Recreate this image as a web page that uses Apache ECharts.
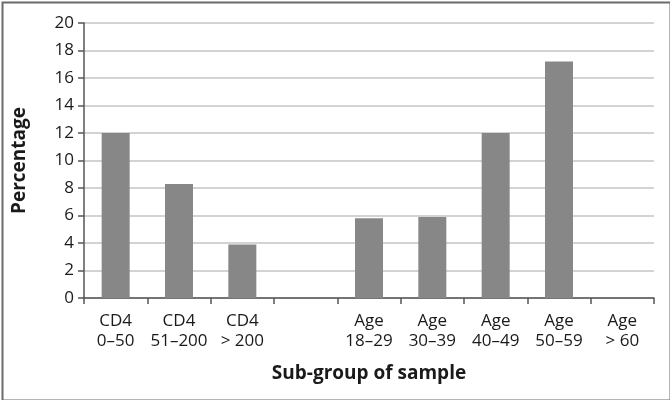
<!DOCTYPE html>
<html>
<head>
<meta charset="utf-8">
<script src="https://cdn.jsdelivr.net/npm/echarts@6/dist/echarts.min.js"></script>
<style>
  html, body { margin: 0; padding: 0; background: #fff; }
  #main { width: 670px; height: 400px; }
</style>
</head>
<body>
<div id="main"></div>
<script>
const categories = ['CD4\n0–50', 'CD4\n51–200', 'CD4\n> 200', '', 'Age\n18–29', 'Age\n30–39', 'Age\n40–49', 'Age\n50–59', 'Age\n> 60'];
const percentages = [12, 8.3, 3.9, null, 5.8, 5.9, 12, 17.2, 0];

const chart = echarts.init(document.getElementById('main'), null, { renderer: 'canvas' });

const font = '"Open Sans", "DejaVu Sans", sans-serif';

const option = {
  backgroundColor: '#ffffff',
  animation: false,
  graphic: [{
    type: 'rect',
    left: 0, top: 0,
    shape: { x: 1, y: 1, width: 668, height: 398 },
    style: { fill: 'none', stroke: '#6b6b6b', lineWidth: 2 },
    silent: true
  }],
  grid: { left: 84, right: 16, top: 23, bottom: 102 },
  xAxis: {
    type: 'category',
    data: categories,
    name: 'Sub-group of sample',
    nameLocation: 'middle',
    nameGap: 66,
    nameTextStyle: { fontFamily: font, fontSize: 19, fontWeight: 'bold', color: '#1a1a1a' },
    axisLine: { lineStyle: { color: '#555555', width: 1.5 } },
    axisTick: { show: true, length: 6, lineStyle: { color: '#555555', width: 1.5 } },
    axisLabel: { interval: 0, margin: 13, fontFamily: font, fontSize: 17, lineHeight: 20, color: '#1a1a1a' },
    splitLine: { show: false }
  },
  yAxis: {
    type: 'value',
    min: 0, max: 20, interval: 2,
    name: 'Percentage',
    nameLocation: 'middle',
    nameGap: 55,
    nameTextStyle: { fontFamily: font, fontSize: 19, fontWeight: 'bold', color: '#1a1a1a' },
    axisLine: { show: true, lineStyle: { color: '#555555', width: 1.5 } },
    axisTick: { show: true, length: 6, lineStyle: { color: '#555555', width: 1.5 } },
    axisLabel: { margin: 10, fontFamily: font, fontSize: 17, color: '#1a1a1a' },
    splitLine: { lineStyle: { color: '#c4c4c4', width: 1.5 } }
  },
  series: [{
    type: 'bar',
    data: percentages,
    barWidth: 28,
    itemStyle: { color: '#878787' }
  }]
};

chart.setOption(option);
</script>
</body>
</html>
